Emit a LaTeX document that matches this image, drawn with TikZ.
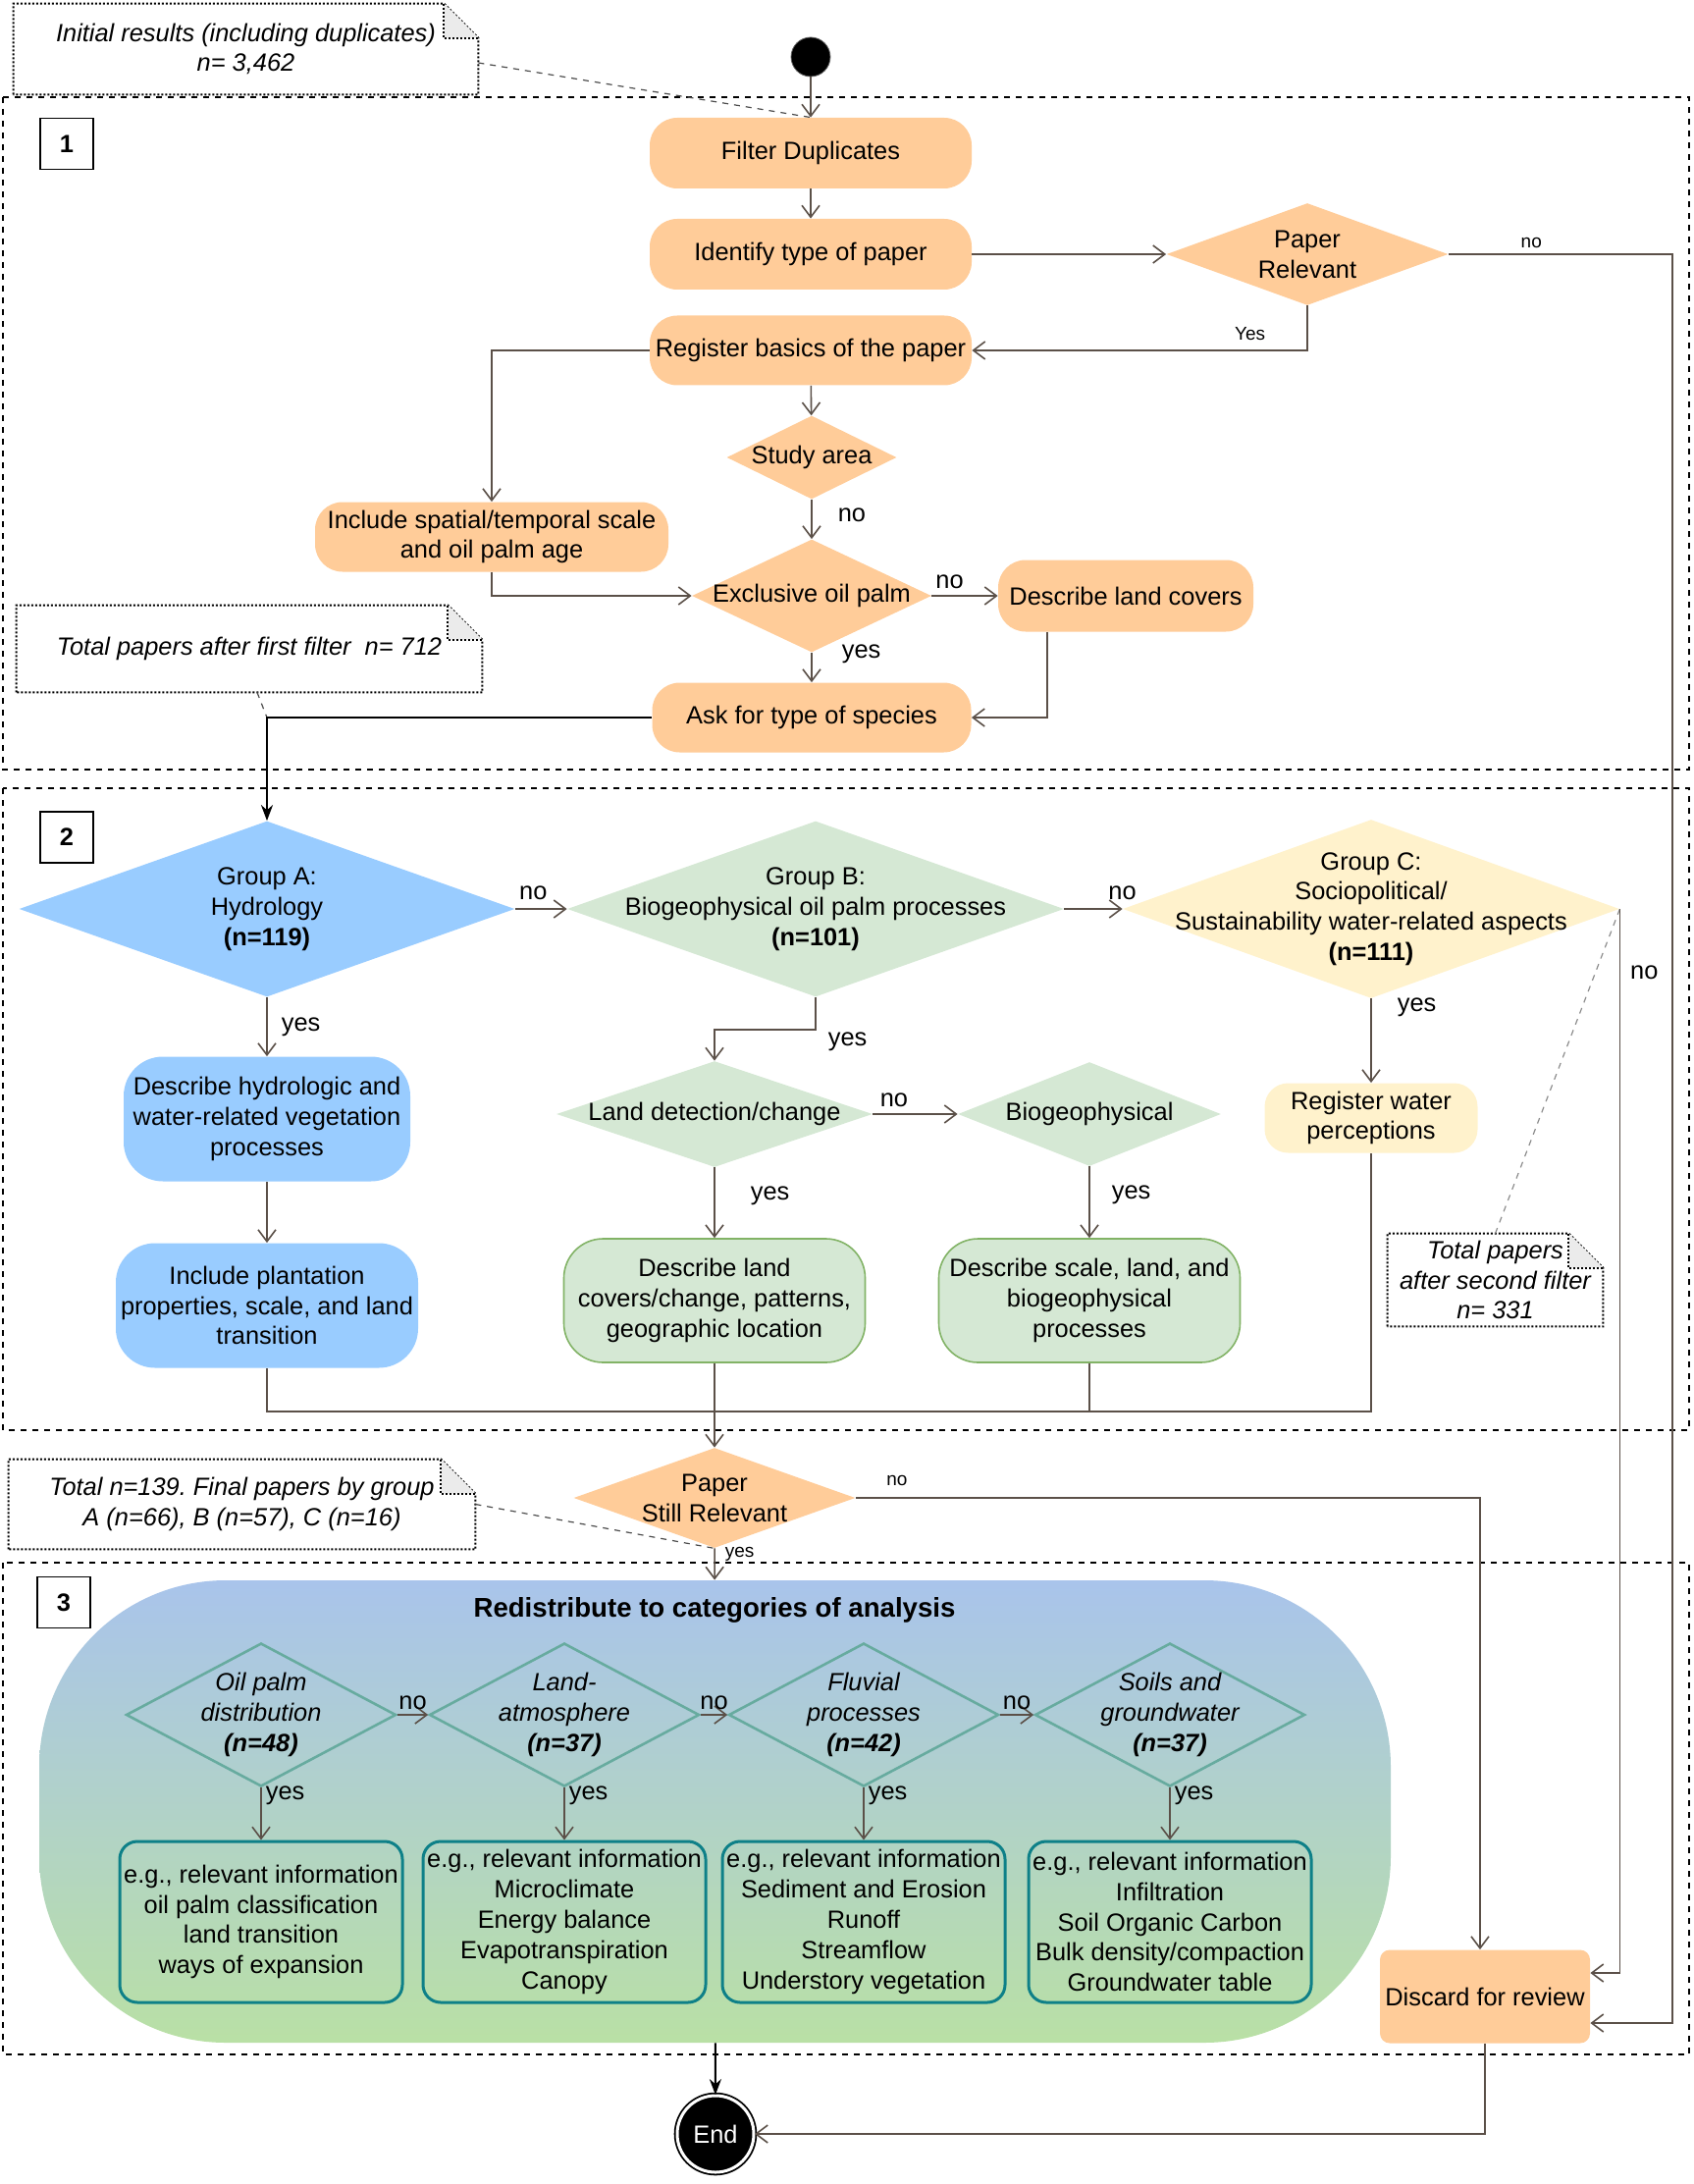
\documentclass[tikz,border=0pt]{standalone}
\usepackage{fontspec}
\setmainfont{Liberation Sans}
\usetikzlibrary{shapes.geometric,arrows.meta,positioning}
\frenchspacing

\definecolor{orng}{HTML}{FFCC99}
\definecolor{skyb}{HTML}{99CCFF}
\definecolor{sage}{HTML}{D5E8D4}
\definecolor{sageline}{HTML}{82B366}
\definecolor{cream}{HTML}{FFF2CC}
\definecolor{tealA}{HTML}{67AB9F}
\definecolor{tealB}{HTML}{0E8088}
\definecolor{wire}{HTML}{5B5048}
\definecolor{topblue}{HTML}{A9C4EB}
\definecolor{botgreen}{HTML}{B9E0A5}

% note outline with a folded corner
\newcommand{\foldnote}[1]{%
  \draw[notedot] (#1.south west) -- (#1.north west) -- ([xshift=-17.5pt]#1.north east)
    -- ([yshift=-17.5pt]#1.north east) -- (#1.south east) -- cycle;
  \filldraw[notedot, fill=black!8] ([xshift=-17.5pt]#1.north east)
    -- ([xshift=-17.5pt,yshift=-17.5pt]#1.north east) -- ([yshift=-17.5pt]#1.north east);
}

\begin{document}
\begin{tikzpicture}[x=0.5pt, y=-0.5pt,
  every node/.style={inner sep=1pt, align=center, font=\fontsize{12.7}{15.4}\selectfont},
  act/.style={rectangle, rounded corners=14pt, fill=orng},
  decide/.style={diamond, inner sep=0pt},
  flow/.style={draw=wire, line width=0.8pt, -{Straight Barb[length=6pt,width=9pt]}},
  wireline/.style={draw=wire, line width=0.8pt},
  blk/.style={draw=black, line width=1pt, -{Stealth[length=8pt,width=6pt]}},
  lab/.style={inner sep=1pt},
  smalllab/.style={inner sep=1pt, font=\fontsize{9.5}{11}\selectfont},
  section/.style={draw=black, dashed, line width=0.6pt},
  numbox/.style={draw=black, fill=white, line width=0.9pt, minimum width=27pt, minimum height=26pt, font=\fontsize{12.7}{15}\selectfont\bfseries},
  notedot/.style={draw=black, densely dotted, line width=1pt},
  notebox/.style={inner sep=0pt, font=\fontsize{12.7}{15.4}\selectfont\itshape},
  leader/.style={draw=black!70, dashed, line width=0.6pt},
  catdec/.style={diamond, draw=tealA, line width=1.3pt, inner sep=0pt, minimum width=137.5pt, minimum height=73pt},
  catlab/.style={font=\fontsize{12.7}{15.4}\selectfont\itshape},
  catbox/.style={rectangle, rounded corners=9pt, draw=tealB, line width=1.5pt, minimum width=144pt, minimum height=82pt, inner sep=0pt},
  blueact/.style={rectangle, rounded corners=20pt, fill=skyb, minimum height=63.5pt},
  greenact/.style={rectangle, rounded corners=20pt, fill=sage, draw=sageline, line width=0.8pt, minimum width=153.5pt, minimum height=63pt}
]
  \useasboundingbox (0,0) rectangle (1725,2225);

  % sections
  \draw[section] (3,99) rectangle (1721,784);
  \draw[section] (3,803) rectangle (1721,1457);
  \draw[section] (3,1592) rectangle (1721,2093);

  % start
  \node[circle, fill=black, draw=black!60, minimum size=20pt, inner sep=0pt] (start) at (826,58) {};
  \node[notebox, minimum width=236.5pt, minimum height=46pt] (initial) at (250.5,50) {Initial results (including duplicates)\\n= 3,462};

  % section 1
  \node[numbox] (one) at (68,146.5) {1};
  \node[act, minimum width=164pt, minimum height=36pt] (filter) at (826,156) {Filter Duplicates};
  \node[act, minimum width=164pt, minimum height=36pt] (identify) at (826,259) {Identify type of paper};
  \node[decide, fill=orng, minimum width=143.5pt, minimum height=52pt, label={center:{Paper\\Relevant}}] (relevant) at (1332,259) {};
  \node[act, minimum width=164pt, minimum height=35.5pt] (basics) at (826,357) {Register basics of the paper};
  \node[decide, fill=orng, minimum width=86.5pt, minimum height=42.5pt, label={center:{Study area}}] (study) at (827,466) {};
  \node[act, minimum width=180pt, minimum height=35.5pt] (spatial) at (501,547) {Include spatial/temporal scale\\and oil palm age};
  \node[decide, fill=orng, minimum width=122pt, minimum height=57.5pt, label={center:{Exclusive oil palm}}] (exclusive) at (827,607) {};
  \node[act, minimum width=130pt, minimum height=36.5pt] (covers) at (1147,607) {Describe land covers};
  \node[act, minimum width=162.5pt, minimum height=35.5pt] (species) at (827,731) {Ask for type of species};
  \node[notebox, minimum width=237pt, minimum height=44pt] (first) at (254,661) {Total papers after first filter\ \ n= 712};

  % section 2
  \node[numbox] (two) at (68,853) {2};
  \node[decide, fill=skyb, minimum width=252.5pt, minimum height=89.5pt, label={center:{Group A:\\Hydrology\\\textbf{(n=119)}}}] (groupA) at (272,926) {};
  \node[decide, fill=sage, minimum width=253pt, minimum height=89.5pt, label={center:{Group B:\\Biogeophysical oil palm processes\\\textbf{(n=101)}}}] (groupB) at (831,926) {};
  \node[decide, fill=cream, minimum width=253pt, minimum height=91pt, label={center:{Group C:\\Sociopolitical/\\Sustainability water-related aspects\\\textbf{(n=111)}}}] (groupC) at (1397,926) {};
  \node[blueact, minimum width=146pt] (hydro) at (272,1140) {Describe hydrologic and\\water-related vegetation\\processes};
  \node[blueact, minimum width=154pt] (plantation) at (272,1330) {Include plantation\\properties, scale, and land\\transition};
  \node[decide, fill=sage, minimum width=161pt, minimum height=54pt, label={center:{Land detection/change}}] (detect) at (728,1135) {};
  \node[decide, fill=sage, minimum width=134pt, minimum height=53pt, label={center:{Biogeophysical}}] (biogeo) at (1110,1135) {};
  \node[rectangle, rounded corners=12pt, fill=cream, minimum width=108.5pt, minimum height=35.5pt] (water) at (1397,1139) {Register water\\perceptions};
  \node[greenact] (landcc) at (728,1325) {Describe land\\covers/change, patterns,\\geographic location};
  \node[greenact] (process) at (1110,1325) {Describe scale, land, and\\biogeophysical\\processes};
  \node[notebox, minimum width=109.5pt, minimum height=47pt] (second) at (1523.5,1304) {Total papers\\after second filter\\n= 331};
  \coordinate (merge) at (728,1438);

  % still relevant
  \node[decide, fill=orng, minimum width=143.5pt, minimum height=51pt, label={center:{Paper\\Still Relevant}}] (still) at (728,1526) {};
  \node[notebox, minimum width=237.5pt, minimum height=45.5pt] (final) at (246.5,1532.5) {Total n=139. Final papers by group\\A (n=66), B (n=57), C (n=16)};

  % section 3
  \node[rectangle, rounded corners=95pt, top color=topblue, bottom color=botgreen, minimum width=688.5pt, minimum height=235.5pt] (cats) at (728.5,1845.5) {};
  \node[numbox] (three) at (65,1632.5) {3};
  \node[font=\fontsize{13.8}{16}\selectfont\bfseries] (redis) at (728,1640) {Redistribute to categories of analysis};
  \node[catdec, label={[catlab]center:{Oil palm\\distribution\\\textbf{(n=48)}}}] (distrib) at (266,1747) {};
  \node[catdec, label={[catlab]center:{Land-\\atmosphere\\\textbf{(n=37)}}}] (atmos) at (575,1747) {};
  \node[catdec, label={[catlab]center:{Fluvial\\processes\\\textbf{(n=42)}}}] (fluvial) at (880,1747) {};
  \node[catdec, label={[catlab]center:{Soils and\\groundwater\\\textbf{(n=37)}}}] (soils) at (1192,1747) {};
  \node[catbox] (infoA) at (266,1958) {e.g., relevant information\\oil palm classification\\land transition\\ways of expansion};
  \node[catbox] (infoB) at (575,1958) {e.g., relevant information\\Microclimate\\Energy balance\\Evapotranspiration\\Canopy};
  \node[catbox] (infoC) at (880,1958) {e.g., relevant information\\Sediment and Erosion\\Runoff\\Streamflow\\Understory vegetation};
  \node[catbox] (infoD) at (1192,1958) {e.g., relevant information\\Infiltration\\Soil Organic Carbon\\Bulk density/compaction\\Groundwater table};

  % discard and end
  \node[rectangle, rounded corners=5pt, fill=orng, minimum width=107pt, minimum height=47.5pt] (discard) at (1513,2034) {Discard for review};
  \node[circle, fill=black, draw=black, double=white, double distance=1.5pt, line width=0.9pt, minimum size=39pt, inner sep=0pt, text=white] (end) at (729,2174) {End};

  % notes
  \foldnote{initial}
  \foldnote{first}
  \foldnote{second}
  \foldnote{final}
  \draw[leader] ([yshift=-7pt]initial.east) -- (filter.north);
  \draw[leader] ([xshift=4pt]first.south) -- (species.west -| groupA.north);
  \draw[leader, draw=black!45] (second.north) -- (groupC.east);
  \draw[leader] (final.east) -- (still.south);

  % section 1 flow
  \draw[flow] (start) -- (filter);
  \draw[flow] (filter) -- (identify);
  \draw[flow] (identify) -- (relevant);
  \draw[flow] (relevant.south) |- node[smalllab, pos=0.5, above left=4pt and 20pt] (yesRel) {Yes} (basics.east);
  \draw[flow] (relevant.east) -- node[smalllab, pos=0.37, above=2pt] (noRel) {no} ++(228,0) |- ([yshift=-13.5pt]discard.east);
  \draw[flow] (basics) -- (study);
  \draw[flow] (basics.west) -| (spatial.north);
  \draw[flow] (study) -- node[lab, pos=0.4, right=12pt] (noStudy) {no} (exclusive);
  \draw[flow] (spatial.south) |- (exclusive.west);
  \draw[flow] (exclusive) -- node[lab, pos=0.27, above=2pt] (noExcl) {no} (covers);
  \draw[flow] (exclusive) -- node[lab, pos=0.05, right=14pt] (yesExcl) {yes} (species);
  \draw[flow] ([xshift=-40pt]covers.south) |- (species.east);
  \draw[blk] (species.west) -| (groupA.north);

  % section 2 flow
  \draw[flow] (groupA) -- node[lab, pos=0.35, above=3pt] (noA) {no} (groupB);
  \draw[flow] (groupB) -- node[lab, pos=1, above=3pt] (noB) {no} (groupC);
  \draw[flow] (groupA) -- node[lab, pos=0.5, right=6pt] (yesA) {yes} (hydro);
  \draw[flow] (hydro) -- (plantation);
  \draw[flow] (groupB.south) -- node[lab, pos=1, below right=0pt and 5pt] (yesB) {yes} ++(0,33) -| (detect.north);
  \draw[flow] (detect) -- node[lab, pos=0.25, above=2pt] (noDetect) {no} (biogeo);
  \draw[flow] (detect) -- node[lab, pos=0.4, right=17pt] (yesDetect) {yes} (landcc);
  \draw[flow] (biogeo) -- node[lab, pos=0.4, right=10pt] (yesBio) {yes} (process);
  \draw[flow] (groupC) -- node[lab, pos=0.1, right=12pt] (yesC) {yes} (water);
  \draw[flow] (groupC.east) |- node[lab, pos=0.03, right=4pt] (noC) {no} ([yshift=12pt]discard.east);
  \draw[wireline] (plantation.south) |- (merge) -| (water.south);
  \draw[wireline] (landcc.south) -- (merge);
  \draw[wireline] (process.south) -- (process.south |- merge);
  \draw[flow] (merge) -- (still);

  % still relevant
  \draw[flow] (still.east) -| node[smalllab, pos=0.033, above=5pt] (noStill) {no} ([xshift=-2.5pt]discard.north);
  \draw[flow] (still) -- node[smalllab, pos=0.2, right=4pt] (yesStill) {yes} (cats);

  % section 3 flow
  \draw[flow] (distrib) -- node[lab, pos=0.5, above=1pt] (noDist) {no} (atmos);
  \draw[flow] (atmos) -- node[lab, pos=0.5, above=1pt] (noAtmos) {no} (fluvial);
  \draw[flow] (fluvial) -- node[lab, pos=0.5, above=1pt] (noFluv) {no} (soils);
  \draw[flow] (distrib) -- node[lab, pos=0.15, right=1pt] (yesDist) {yes} (infoA);
  \draw[flow] (atmos) -- node[lab, pos=0.15, right=1pt] (yesAtmos) {yes} (infoB);
  \draw[flow] (fluvial) -- node[lab, pos=0.15, right=1pt] (yesFluv) {yes} (infoC);
  \draw[flow] (soils) -- node[lab, pos=0.15, right=1pt] (yesSoils) {yes} (infoD);
  \draw[blk] (cats) -- (end);
  \draw[flow] (discard.south) |- (end.east);
\end{tikzpicture}
\end{document}
